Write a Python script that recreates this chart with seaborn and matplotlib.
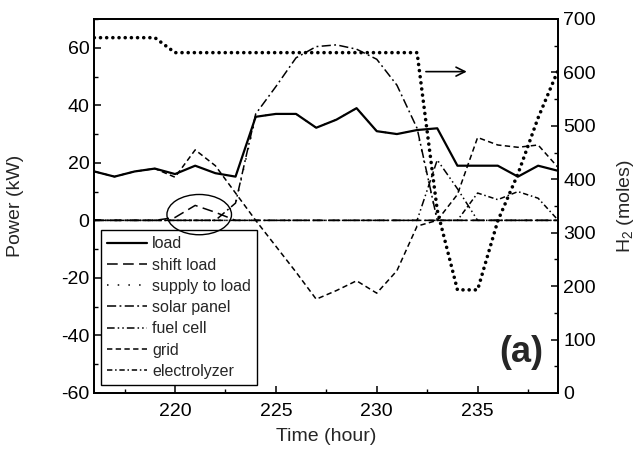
import matplotlib
matplotlib.use("Agg")
import matplotlib.pyplot as plt
from matplotlib.patches import Ellipse
from matplotlib.ticker import MultipleLocator
import seaborn as sns
import pandas as pd

# hourly time axis
hours = list(range(216, 240))

# power flows (kW)
load = [17, 15.2, 17, 18, 16.1, 19, 16.4, 15.2, 36, 37, 37, 32.2,
        35, 39, 31, 30, 31.4, 32, 19, 19, 19, 15.2, 19, 17.2]
shift_load = [0, 0, 0, 0, 1, 5.2, 2.8, 0, 0, 0, 0, 0,
              0, 0, 0, 0, 0, 0, 0, 0, 0, 0, 0, 0]
supply_to_load = [0, 0, 0, 0, 0, 0, 0, 5.7, 36, 37, 37, 32.2,
                  35, 39, 31, 30, 31.4, 0, 0, 0, 0, 0, 0, 0]
solar_panel = [0, 0, 0, 0, 0, 0, 0, 6, 37, 46.5, 56.5, 60.4,
               61, 59.5, 56, 47, 32, 0, 0, 0, 0, 0, 0, 0]
fuel_cell = [0, 0, 0, 0, 0, 0, 0, 0, 0, 0, 0, 0,
             0, 0, 0, 0, 0, 21, 11, 0, 0, 0, 0, 0]
grid = [17, 15.2, 17, 18, 15, 24.5, 19, 9.5, 0, -9, -18, -27.4,
        -24.4, -21, -25.3, -17.5, -2, 0, 9, 28.8, 26.2, 25.4, 26.2, 18.3]
electrolyzer = [0, 0, 0, 0, 0, 0, 0, 0, 0, 0, 0, 0,
                0, 0, 0, 0, 0, 0, 0, 9.5, 7.2, 10, 7.7, 0]

# hydrogen stored (moles)
h2_moles = [665, 665, 665, 665, 637, 637, 637, 637, 637, 637, 637, 637,
            637, 637, 637, 637, 637, 342, 193, 193, 322, 410, 515, 605]

sns.set_theme(style="ticks")
plt.rcParams["font.family"] = ["Liberation Sans", "DejaVu Sans"]
plt.rcParams["mathtext.fontset"] = "custom"
plt.rcParams["mathtext.rm"] = "Liberation Sans"
plt.rcParams["mathtext.it"] = "Liberation Sans:italic"
plt.rcParams["axes.unicode_minus"] = False

series = [
    ("load", load, "-", 1.6),
    ("shift load", shift_load, (0, (7, 3.5)), 1.1),
    ("supply to load", supply_to_load, (0, (1, 6)), 1.1),
    ("solar panel", solar_panel, (0, (6, 2.2, 1.2, 2.2)), 1.1),
    ("fuel cell", fuel_cell, (0, (5, 2, 1, 2, 1, 2)), 1.1),
    ("grid", grid, (0, (3.5, 2.2)), 1.1),
    ("electrolyzer", electrolyzer, (0, (3.5, 1.8, 1, 1.8)), 1.1),
]

fig = plt.figure(figsize=(6.39, 4.54), dpi=100)
ax = fig.add_axes([0.1476, 0.1344, 0.7261, 0.8238])
ax2 = ax.twinx()

handles = []
for name, vals, ls, lw in series:
    df = pd.DataFrame({"hour": hours, "power": vals})
    sns.lineplot(data=df, x="hour", y="power", ax=ax, color="black",
                 linestyle=ls, linewidth=lw, label=name)
    handles.append(ax.get_lines()[-1])

h2_df = pd.DataFrame({"hour": hours, "h2": h2_moles})
sns.lineplot(data=h2_df, x="hour", y="h2", ax=ax2, color="black",
             linestyle=(0, (0.01, 1.7)), linewidth=2.6,
             dash_capstyle="round", legend=False)

ax.set_xlim(216, 239)
ax.set_ylim(-60, 70)
ax2.set_ylim(0, 700)

ax.set_xticks([220, 225, 230, 235])
ax.xaxis.set_minor_locator(MultipleLocator(2.5))
ax.set_yticks(list(range(-60, 61, 20)))
ax.yaxis.set_minor_locator(MultipleLocator(10))
ax2.set_yticks(list(range(0, 701, 100)))
ax2.yaxis.set_minor_locator(MultipleLocator(50))

for a in (ax, ax2):
    a.tick_params(which="major", direction="in", length=5, width=1.1,
                  labelsize=14, color="black", labelcolor="black")
    a.tick_params(which="minor", direction="in", length=3, width=1.0,
                  color="black")
    for sp in a.spines.values():
        sp.set_linewidth(1.3)
        sp.set_color("black")
ax.tick_params(axis="x", pad=7)

ax.set_xlabel("Time (hour)", fontsize=14, labelpad=6)
ax.set_ylabel("Power (kW)", fontsize=14)
ax2.set_ylabel("H$_2$ (moles)", fontsize=14)
ax.yaxis.set_label_coords(-0.152, 0.5)
ax2.yaxis.set_label_coords(1.122, 0.5)

leg = ax.legend(handles=handles, labels=[s[0] for s in series],
                loc="lower left", bbox_to_anchor=(0.0144, 0.021),
                borderaxespad=0, fontsize=11.5, handlelength=2.5,
                handletextpad=0.3, labelspacing=0.39, borderpad=0.4,
                fancybox=False, framealpha=1, edgecolor="black")
leg.get_frame().set_linewidth(1.0)

ax.add_patch(Ellipse((221.2, 2), 3.2, 14, fill=False, ec="black",
                     lw=1.0, zorder=10))

ax.annotate("", xy=(234.6, 51.7), xytext=(232.3, 51.7),
            arrowprops=dict(arrowstyle="->", color="black", lw=1.2,
                            mutation_scale=16))

ax.text(237.15, -46, "(a)", fontsize=26, fontweight="bold",
        ha="center", va="center")

fig.savefig("out.png", dpi=100)
